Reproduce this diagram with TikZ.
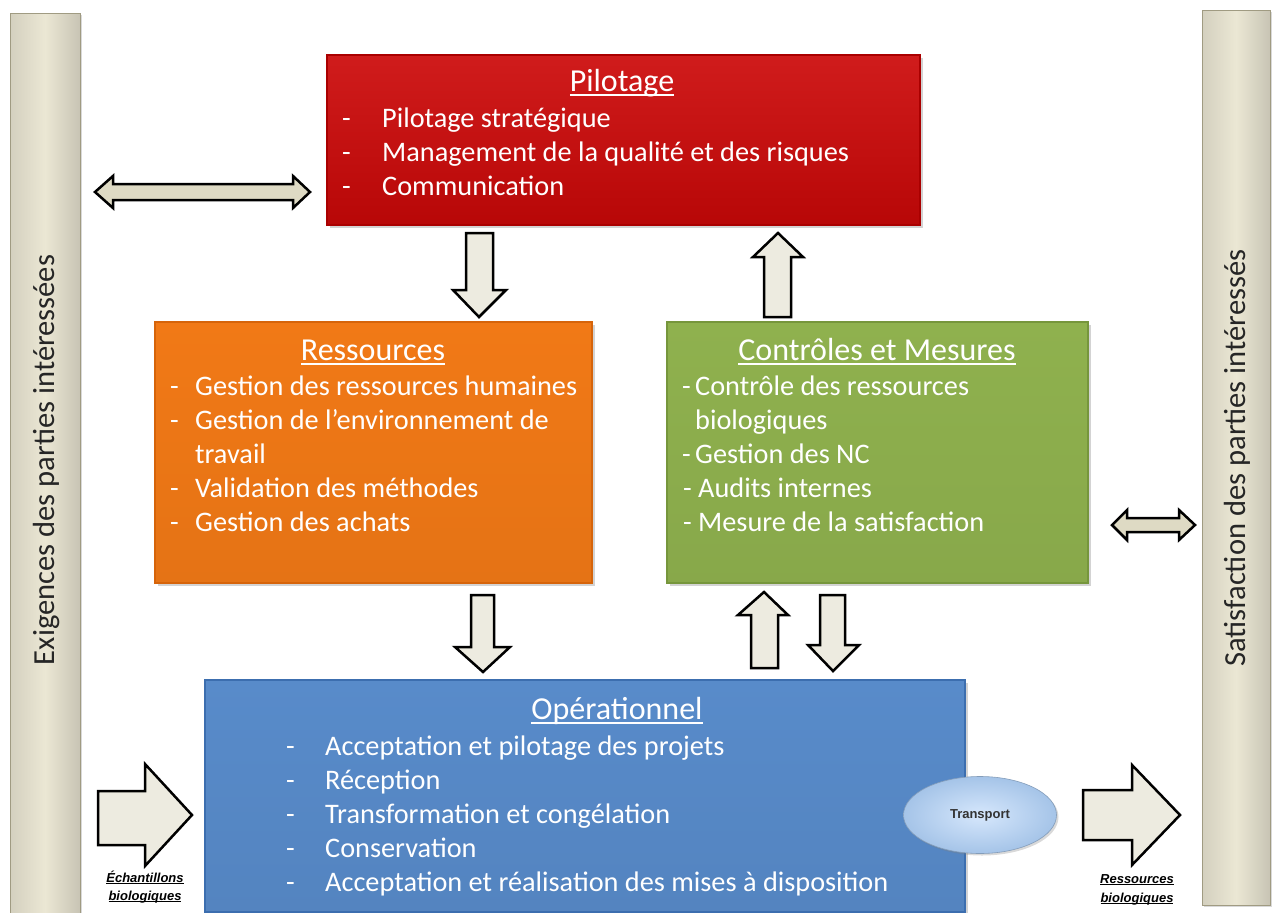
\documentclass[tikz,border=0pt]{standalone}
\usepackage{fontspec}
\setmainfont{Carlito}
\newfontfamily\arialf{Liberation Sans}
\usetikzlibrary{shadows,shapes.geometric}
\definecolor{pilred}{RGB}{204,8,8}
\definecolor{pilredd}{RGB}{170,0,0}
\definecolor{resor}{RGB}{241,121,22}
\definecolor{resord}{RGB}{214,100,10}
\definecolor{ctlgr}{RGB}{143,177,78}
\definecolor{ctlgrd}{RGB}{118,150,60}
\definecolor{opbl}{RGB}{88,139,202}
\definecolor{opbld}{RGB}{60,110,175}
\definecolor{barbg}{RGB}{235,231,212}
\definecolor{barbd}{RGB}{160,155,130}
\definecolor{arrfill}{RGB}{237,235,224}
\definecolor{darrfill}{RGB}{222,218,196}
\definecolor{trin}{RGB}{214,231,252}
\definecolor{trout}{RGB}{165,196,232}
\newcommand\tul[1]{\setbox0\hbox{#1}\rlap{\rule[-5pt]{\wd0}{1.6pt}}\box0}
\newcommand\lul[1]{\setbox0\hbox{#1}\rlap{\rule[-2.2pt]{\wd0}{0.8pt}}\box0}
\begin{document}
\begin{tikzpicture}[x=1pt,y=-1pt,
  box/.style={rectangle, inner sep=0pt, line width=1.5pt,
    drop shadow={opacity=0.35, shadow xshift=3pt, shadow yshift=-3pt}},
  bar/.style={rectangle, inner sep=0pt, draw=barbd, line width=1pt,
    left color=barbg!90!black, right color=barbg!85!black, middle color=barbg,
    drop shadow={opacity=0.3, shadow xshift=2pt, shadow yshift=-2pt}},
  it/.style={anchor=base west, inner sep=0pt, text=white, font=\fontsize{28.3}{33}\selectfont},
  ttl/.style={anchor=base, inner sep=0pt, text=white, font=\fontsize{32}{38}\selectfont},
  bartxt/.style={rotate=90, inner sep=0pt, text=black!85, font=\fontsize{30.6}{36}\selectfont},
  barrow/.style={draw=black, line width=2.5pt, fill=arrfill, line join=miter},
  dbarrow/.style={draw=black, line width=2.5pt, fill=darrfill, line join=miter},
  lbl/.style={inner sep=0pt, anchor=base, text=black, font=\arialf\bfseries\itshape\fontsize{13}{15}\selectfont}
]
\useasboundingbox (0,0) rectangle (1272,913);

% side bars
\node[bar, minimum width=70pt, minimum height=900pt] (lbar) at (45,463) {};
\node[bar, minimum width=68pt, minimum height=895pt] (rbar) at (1236,457.5) {};
\node[bartxt] (ltxt) at (47,460) {Exigences des parties intéressées};
\node[bartxt] (rtxt) at (1237,458) {Satisfaction des parties intéressés};

% main boxes
\node[box, draw=pilredd, top color=pilred!92!white, bottom color=pilred!90!black, minimum width=593pt, minimum height=170pt] (pil) at (623.5,140) {};
\node[box, draw=resord, top color=resor, bottom color=resor!95!black, minimum width=437pt, minimum height=261pt] (res) at (373.5,452.5) {};
\node[box, draw=ctlgrd, top color=ctlgr, bottom color=ctlgr!95!black, minimum width=421pt, minimum height=261pt] (ctl) at (877.5,452.5) {};
\node[box, draw=opbld, top color=opbl, bottom color=opbl!95!black, minimum width=760pt, minimum height=232pt] (ope) at (585,796) {};

% Pilotage text
\node[ttl] (pilt) at (622,91) {\tul{Pilotage}};
\node[it] (pil1) at (342,127) {\makebox[40pt][l]{-}Pilotage stratégique};
\node[it] (pil2) at (342,161) {\makebox[40pt][l]{-}Management de la qualité et des risques};
\node[it] (pil3) at (342,195) {\makebox[40pt][l]{-}Communication};

% Ressources text
\node[ttl] (rest) at (373,360) {\tul{Ressources}};
\node[it] (res1) at (170,395) {\makebox[25pt][l]{-}Gestion des ressources humaines};
\node[it] (res2) at (170,429) {\makebox[25pt][l]{-}Gestion de l’environnement de};
\node[it] (res3) at (195,463) {travail};
\node[it] (res4) at (170,497) {\makebox[25pt][l]{-}Validation des méthodes};
\node[it] (res5) at (170,531) {\makebox[25pt][l]{-}Gestion des achats};

% Controles text
\node[ttl] (ctlt) at (877,360) {\tul{Contrôles et Mesures}};
\node[it] (ctl1) at (682,395) {\makebox[13pt][l]{-}Contrôle des ressources};
\node[it] (ctl2) at (695,429) {biologiques};
\node[it] (ctl3) at (682,463) {\makebox[13pt][l]{-}Gestion des NC};
\node[it] (ctl4) at (683,497) {\makebox[15pt][l]{-}Audits internes};
\node[it] (ctl5) at (683,531) {\makebox[15pt][l]{-}Mesure de la satisfaction};

% Operationnel text
\node[ttl] (opet) at (617,719) {\tul{Opérationnel}};
\node[it] (ope1) at (286,755) {\makebox[39pt][l]{-}Acceptation et pilotage des projets};
\node[it] (ope2) at (286,789) {\makebox[39pt][l]{-}Réception};
\node[it] (ope3) at (286,823) {\makebox[39pt][l]{-}Transformation et congélation};
\node[it] (ope4) at (286,857) {\makebox[39pt][l]{-}Conservation};
\node[it] (ope5) at (286,891) {\makebox[39pt][l]{-}Acceptation et réalisation des mises à disposition};

% Transport
\node[ellipse, minimum width=153pt, minimum height=77pt, inner sep=0pt,
  inner color=trin, outer color=trout, draw=trout!80!black, line width=0.6pt,
  drop shadow={opacity=0.3, shadow xshift=2pt, shadow yshift=-2pt},
  font=\arialf\bfseries\fontsize{13}{15}\selectfont, text=black!80] (tra) at (980,815) {Transport};

% double arrows
\draw[dbarrow] (95,192) -- (113,176) -- (113,184) -- (293,184) -- (293,176) -- (310,192)
  -- (293,208) -- (293,200) -- (113,200) -- (113,208) -- cycle;
\draw[dbarrow] (1112,525) -- (1127,510) -- (1127,518) -- (1179,518) -- (1179,510) -- (1195,525)
  -- (1179,540) -- (1179,532) -- (1127,532) -- (1127,540) -- cycle;

% vertical arrows
% Pilotage -> Ressources
\draw[barrow] (466,233) -- (493,233) -- (493,290) -- (506,290) -- (479,317) -- (453,290) -- (466,290) -- cycle;
% Controles -> Pilotage
\draw[barrow] (764,317) -- (791,317) -- (791,257) -- (803,257) -- (778,233) -- (753,257) -- (764,257) -- cycle;
% Ressources -> Operationnel
\draw[barrow] (471,595) -- (494,595) -- (494,647) -- (510,647) -- (483,672) -- (455,647) -- (471,647) -- cycle;
% Operationnel -> Controles
\draw[barrow] (751,668) -- (778,668) -- (778,615) -- (788,615) -- (764,592) -- (738,615) -- (751,615) -- cycle;
% Controles -> Operationnel
\draw[barrow] (820,595) -- (845,595) -- (845,645) -- (859,645) -- (833,671) -- (808,645) -- (820,645) -- cycle;

% horizontal big arrows
\draw[barrow] (98,791) -- (145,791) -- (145,764) -- (192,815) -- (145,866) -- (145,845) -- (98,845) -- cycle;
\draw[barrow] (1083,790) -- (1132,790) -- (1132,765) -- (1180,815) -- (1132,865) -- (1132,840) -- (1083,840) -- cycle;

% labels
\node[lbl] (lin1) at (145,882) {\lul{Échantillons}};
\node[lbl] (lin2) at (145,900) {\lul{biologiques}};
\node[lbl] (lout1) at (1137,883) {\lul{Ressources}};
\node[lbl] (lout2) at (1137,902) {\lul{biologiques}};
\end{tikzpicture}
\end{document}
